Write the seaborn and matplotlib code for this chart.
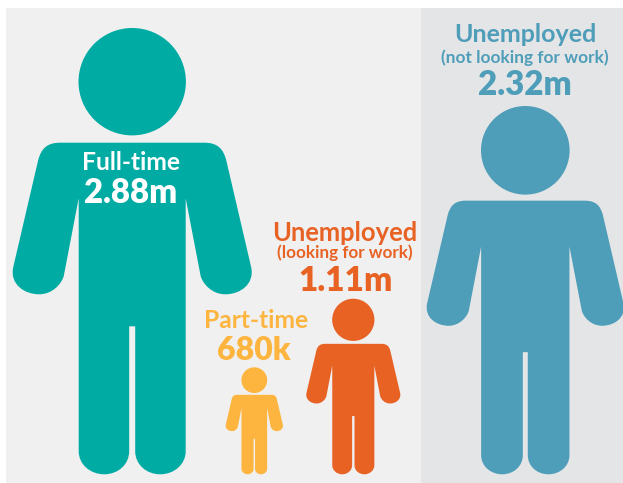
import numpy as np
import pandas as pd
import seaborn as sns
import matplotlib.pyplot as plt
from matplotlib.path import Path

# =========================================
# DATA
# =========================================

groups = ['Full-time', 'Part-time', 'Unemployed (looking)', 'Unemployed (not looking)']
figure_heights = [446.3, 107.0, 175.6, 368.3]
figure_x = [132.2, 254.3, 353.3, 525.3]
colors = ['#00ABA3', '#FDB53F', '#E86224', '#4E9DB9']

label_text = ['Full-time', '2.88m', 'Part-time', '680k', 'Unemployed', '(looking for work)',
              '1.11m', 'Unemployed', '(not looking for work)', '2.32m']
label_x = [131, 131, 256, 254, 345, 345, 346, 525, 525, 525]
label_y = [163, 193, 321, 350, 233, 253, 281, 35, 58, 85]
label_size = [17.7, 23.7, 17.7, 23, 18.4, 12.3, 24, 18, 12.4, 23.9]
label_weight = ['bold', 'heavy', 'bold', 'heavy', 'bold', 'bold', 'heavy',
                'bold', 'bold', 'heavy']
label_color = ['white', 'white', colors[1], colors[1], colors[2], colors[2], colors[2],
               colors[3], colors[3], colors[3]]

BASELINE = 474.3
PX_TO_PT = 0.72


# =========================================
# PERSON GLYPH (drawn for a 446.3 tall figure, feet at 0)
# =========================================

def person_marker():
    start = (3, 148)
    # right half from the crotch up to the shoulder, each piece is a line or a bezier
    pieces = [
        [(3, 23)],
        [(3, 10), (14, 0), (28, 0)],
        [(42, 0), (53.5, 10), (53.5, 23)],
        [(53.5, 276)],
        [(68.5, 198)],
        [(71, 190), (80, 180), (93, 180)],
        [(108, 180), (122.5, 190), (119, 207)],
        [(94, 314.3)],
        [(91, 325), (86, 331.6), (72, 331.6)],
    ]

    verts = [start]
    codes = [Path.MOVETO]
    for piece in pieces:
        verts += piece
        codes += [Path.LINETO] if len(piece) == 1 else [Path.CURVE4] * 3

    # left half is the same outline mirrored and walked backwards
    ends = [start] + [piece[-1] for piece in pieces]
    verts.append((-72, 331.6))
    codes.append(Path.LINETO)
    for i in range(len(pieces) - 1, -1, -1):
        back = pieces[i][:-1][::-1] + [ends[i]]
        verts += [(-x, y) for x, y in back]
        codes += [Path.LINETO] if len(back) == 1 else [Path.CURVE4] * 3
    verts.append(start)
    codes.append(Path.CLOSEPOLY)

    head = Path.circle((0, 392.6), 53.7)

    all_verts = np.vstack([np.array(verts, dtype=float), head.vertices])
    all_codes = np.concatenate([np.array(codes), head.codes])

    # centre vertically so the marker scales by the full height
    all_verts[:, 1] -= 446.3 / 2
    return Path(all_verts, all_codes)


# =========================================
# PLOT
# =========================================

sns.set_style('white')
plt.rcParams['font.family'] = ['Lato', 'DejaVu Sans']

df = pd.DataFrame({
    'group': groups,
    'x': figure_x,
    'y': [BASELINE - h / 2 for h in figure_heights],
})

fig = plt.figure(figsize=(6.23, 4.83), dpi=100)
ax = fig.add_axes([0, 0, 1, 1])

ax.fill_between([6, 421], 8, 483, color='#F0F0F1', linewidth=0)
ax.fill_between([421, 623], 8, 483, color='#E4E5E7', linewidth=0)

sns.scatterplot(
    data=df,
    x='x',
    y='y',
    hue='group',
    palette=dict(zip(groups, colors)),
    size='group',
    sizes={g: (h * PX_TO_PT) ** 2 for g, h in zip(groups, figure_heights)},
    marker=person_marker(),
    linewidth=0,
    legend=False,
    ax=ax
)

for txt, x, y, size, weight, col in zip(label_text, label_x, label_y, label_size, label_weight, label_color):
    ax.text(x, y, txt, fontsize=size, color=col, fontweight=weight, ha='center', va='center')

ax.set_xlim(0, 623)
ax.set_ylim(483, 0)
ax.axis('off')

fig.savefig('out.png', dpi=100, facecolor='white')
